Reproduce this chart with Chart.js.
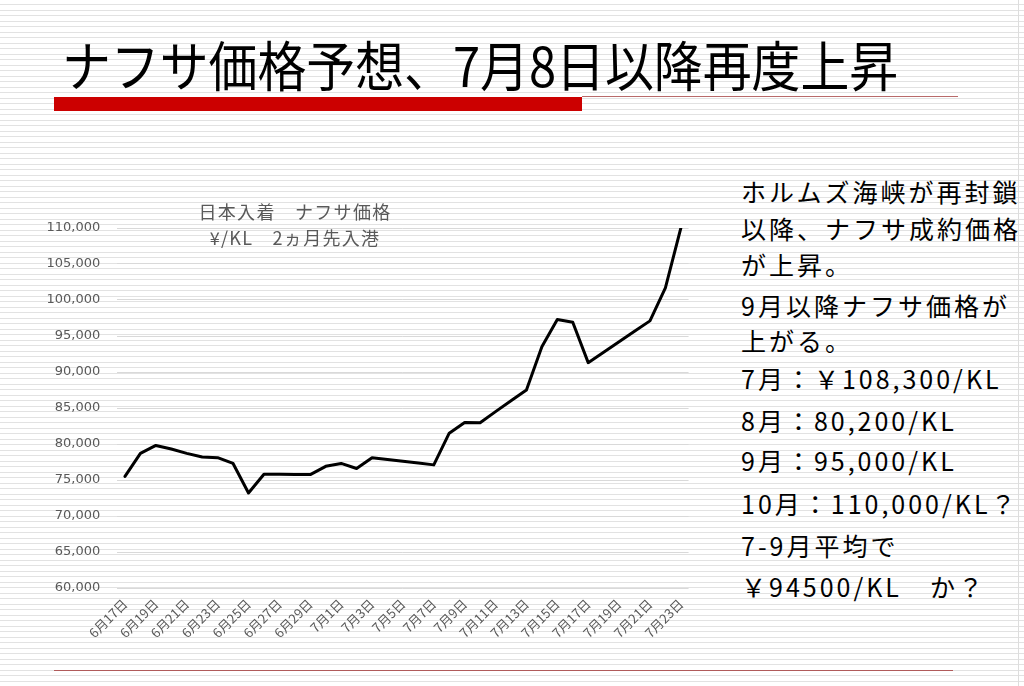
<!DOCTYPE html>
<html lang="ja">
<head>
<meta charset="utf-8">
<script src="https://cdn.jsdelivr.net/npm/chart.js@4.4.1/dist/chart.umd.min.js"></script>
<style>
  html, body { margin: 0; padding: 0; }
  body {
    width: 1024px; height: 686px; position: relative; overflow: hidden;
    background: repeating-linear-gradient(to bottom, #ffffff 0px, #ffffff 4.4px, #e2e2e2 4.4px, #e2e2e2 5.5px);
    font-family: "Noto Sans CJK JP", "Noto Sans", sans-serif;
  }
  .abs { position: absolute; white-space: nowrap; }
  #title { left: 62px; top: 37px; font-size: 54px; line-height: 1; color: #000; transform: scaleX(0.905); transform-origin: left top; }
  #redbar { left: 54px; top: 97px; width: 528px; height: 14px; background: #cc0000; }
  #thinline { left: 582px; top: 96px; width: 376px; height: 1px; background: #b86a6a; }
  #bottomline { left: 54px; top: 670px; width: 899px; height: 1px; background: #b05a5a; }
  #vline { left: 1018px; top: 0px; width: 1px; height: 686px; background: #dddddd; }
  #chartbox { left: 30px; top: 200px; width: 670px; height: 440px; }
  #ctitle { left: 140px; top: 198px; width: 310px; text-align: center; font-size: 18px; line-height: 26px; letter-spacing: 1.3px; color: #595959; }
  .rt { left: 741px; font-size: 25px; line-height: 1; letter-spacing: 3px; color: #000; }
</style>
</head>
<body>
<div class="abs" id="vline"></div>
<div class="abs" id="title">ナフサ価格予想、7月8日以降再度上昇</div>
<div class="abs" id="redbar"></div>
<div class="abs" id="thinline"></div>
<div class="abs" id="bottomline"></div>
<div class="abs" id="chartbox"><canvas id="c"></canvas></div>
<div class="abs" id="ctitle">日本入着　ナフサ価格<br>¥/KL　2ヵ月先入港</div>

<div class="abs rt" style="top:179px">ホルムズ海峡が再封鎖</div>
<div class="abs rt" style="top:216px">以降、ナフサ成約価格</div>
<div class="abs rt" style="top:252px">が上昇。</div>
<div class="abs rt" style="top:293px">9月以降ナフサ価格が</div>
<div class="abs rt" style="top:328px">上がる。</div>
<div class="abs rt" style="top:366px">7月：￥108,300/KL</div>
<div class="abs rt" style="top:408px">8月：80,200/KL</div>
<div class="abs rt" style="top:448px">9月：95,000/KL</div>
<div class="abs rt" style="top:491px">10月：110,000/KL？</div>
<div class="abs rt" style="top:533px">7-9月平均で</div>
<div class="abs rt" style="top:574px">￥94500/KL　か？</div>

<script>
const dateLabels = [
  "6月17日","6月18日","6月19日","6月20日","6月21日","6月22日","6月23日","6月24日",
  "6月25日","6月26日","6月27日","6月28日","6月29日","6月30日",
  "7月1日","7月2日","7月3日","7月4日","7月5日","7月6日","7月7日","7月8日",
  "7月9日","7月10日","7月11日","7月12日","7月13日","7月14日","7月15日","7月16日",
  "7月17日","7月18日","7月19日","7月20日","7月21日","7月22日","7月23日"
];
const naphthaPrice = [
  75500, 78700, 79800, 79300, 78700, 78200, 78100, 77300,
  73200, 75800, 75800, 75750, 75750, 76900,
  77300, 76600, 78100, 77850, 77600, 77350, 77100, 81500,
  83000, 82950, 84500, 86000, 87500, 93500, 97300, 96900,
  91300, 92750, 94200, 95650, 97100, 101700, 110000
];
const yMin = 60000;
const yMax = 110000;
const yStep = 5000;

new Chart(document.getElementById('c'), {
  type: 'line',
  data: {
    labels: dateLabels,
    datasets: [{
      data: naphthaPrice,
      borderColor: '#000000',
      borderWidth: 3,
      pointRadius: 0,
      tension: 0,
      borderJoinStyle: 'round',
      borderCapStyle: 'round',
      fill: false
    }]
  },
  options: {
    responsive: true,
    maintainAspectRatio: false,
    animation: false,
    devicePixelRatio: 1,
    layout: { padding: { top: 28, right: 9.8, bottom: 0, left: 0 } },
    plugins: { legend: { display: false }, title: { display: false }, tooltip: { enabled: false } },
    scales: {
      x: {
        offset: true,
        grid: { display: false, drawTicks: false },
        border: { display: false },
        ticks: {
          autoSkip: false,
          minRotation: 45,
          maxRotation: 45,
          padding: 8,
          color: '#595959',
          font: { family: '"Noto Sans CJK JP", sans-serif', size: 13 },
          callback: function(val, idx) { return idx % 2 === 0 ? dateLabels[idx] : ''; }
        },
        afterFit: function(scale) { scale.height = 52; }
      },
      y: {
        min: yMin,
        max: yMax,
        grid: { color: '#d9d9d9', lineWidth: 1, drawTicks: false },
        border: { display: false },
        ticks: {
          stepSize: yStep,
          padding: 17,
          color: '#595959',
          font: { family: '"DejaVu Sans", Verdana, sans-serif', size: 13 },
          callback: function(v) { return v.toLocaleString('en-US'); }
        },
        afterFit: function(scale) { scale.width = 87.26; }
      }
    }
  }
});
</script>
</body>
</html>
